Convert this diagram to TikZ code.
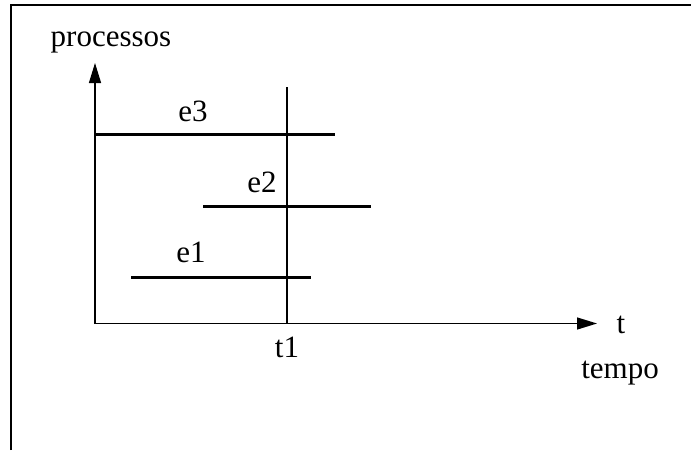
\documentclass[tikz,border=0pt]{standalone}
\usepackage{fontspec}
\setmainfont{Liberation Serif}
\usetikzlibrary{arrows.meta}
\begin{document}
\begin{tikzpicture}[x=1pt,y=-1pt,
  lbl/.style={anchor=base,inner sep=0pt,font=\fontsize{31}{36}\selectfont},
  axis/.style={line width=1.3pt,-{Triangle[length=20pt,width=12pt]}},
  event/.style={line width=3pt},
  mark line/.style={line width=1.1pt},
  frame/.style={line width=1.5pt}]
\useasboundingbox (0,0) rectangle (691,450);
% frame (top and left edges only)
\coordinate (fl) at (11,450);
\coordinate (ftl) at (11,5);
\coordinate (ftr) at (691,5);
\draw[frame] (fl) -- (ftl) -- (ftr);
% axes
\coordinate (O) at (95,323.5);
\coordinate (ytop) at (95,63);
\coordinate (xend) at (597,323.5);
\draw[axis] (O) -- (ytop);
\draw[axis] (O) -- (xend);
% t1 line
\coordinate (t1top) at (287,87);
\coordinate (t1bot) at (287,323.5);
\draw[mark line] (t1top) -- (t1bot);
% events
\coordinate (e3a) at (95,134);
\coordinate (e3b) at (335,134);
\coordinate (e2a) at (203,206);
\coordinate (e2b) at (371,206);
\coordinate (e1a) at (131,277);
\coordinate (e1b) at (311,277);
\draw[event] (e3a) -- (e3b);
\draw[event] (e2a) -- (e2b);
\draw[event] (e1a) -- (e1b);
% labels
\node[lbl] (proc) at (111,46.5) {processos};
\node[lbl] (le3) at (193,121) {e3};
\node[lbl] (le2) at (262,192) {e2};
\node[lbl] (le1) at (191,262) {e1};
\node[lbl] (lt1) at (287,357) {t1};
\node[lbl] (lt) at (621,333) {t};
\node[lbl] (ltempo) at (620,378) {tempo};
\end{tikzpicture}
\end{document}
